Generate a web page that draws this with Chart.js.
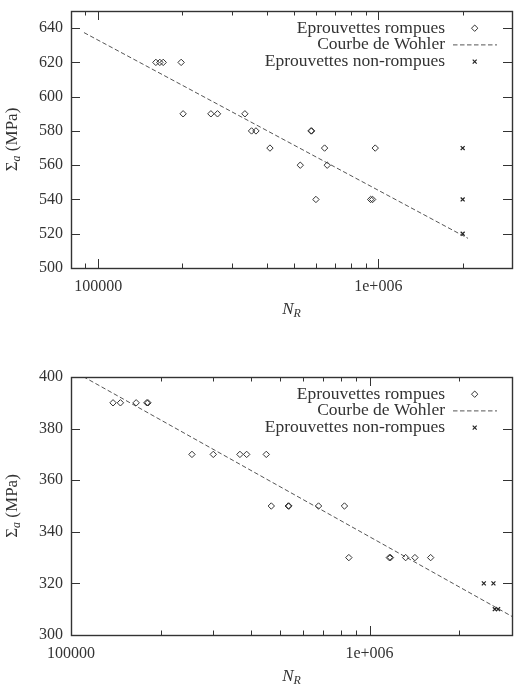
<!DOCTYPE html>
<html>
<head>
<meta charset="utf-8">
<script src="https://cdn.jsdelivr.net/npm/chart.js@4"></script>
<style>
  html, body { margin: 0; padding: 0; background: #fff; }
  .box { position: absolute; left: 0; width: 521px; height: 346px; }
</style>
</head>
<body>
<div class="box" style="top:0"><canvas id="chartTop"></canvas></div>
<div class="box" style="top:346px"><canvas id="chartBottom"></canvas></div>
<script>
// legend labels
const labelRompues = 'Eprouvettes rompues';
const labelWohler = 'Courbe de Wohler';
const labelNonRompues = 'Eprouvettes non-rompues';

// top chart
const topRompuesN = [160700, 166000, 170700, 197800, 201000, 252600, 266700, 334000, 352800, 365800,
                     575000, 578000, 410400, 643000, 975000, 526500, 657000, 598800, 938900, 954000];
const topRompuesS = [620, 620, 620, 620, 590, 590, 590, 590, 580, 580,
                     580, 580, 570, 570, 570, 560, 560, 540, 540, 540];
const topNonRompuesN = [2000000, 2000000, 2000000];
const topNonRompuesS = [570, 540, 520];
const topWohlerN = [89000, 2090000];
const topWohlerS = [637.4, 517.3];
const topYTicks = [500, 520, 540, 560, 580, 600, 620, 640];

// bottom chart
const botRompuesN = [138300, 146400, 165300, 179500, 181000, 254200, 299600, 368000, 387600, 450900,
                     468700, 534000, 537000, 674700, 824000, 852300, 1165000, 1175000, 1321000, 1419000, 1602000];
const botRompuesS = [390, 390, 390, 390, 390, 370, 370, 370, 370, 370,
                     350, 350, 350, 350, 350, 330, 330, 330, 330, 330, 330];
const botNonRompuesN = [2414000, 2600000, 2627000, 2695000];
const botNonRompuesS = [320, 320, 310, 310];
const botWohlerN = [100000, 3000000];
const botWohlerS = [402.8, 307.2];
const botYTicks = [300, 320, 340, 360, 380, 400];

// x tick labels (both charts)
const xTickValues = [100000, 1000000];
const xTickLabels = ['100000', '1e+006'];

const SERIF = '"Liberation Serif", "DejaVu Serif", serif';
const INK = '#333';

function pts(xs, ys) {
    return xs.map((x, i) => ({ x: x, y: ys[i] }));
}

function drawParts(ctx, parts, cx, cy) {
    let total = 0;
    parts.forEach(p => { ctx.font = p.font; total += ctx.measureText(p.t).width; });
    let x = cx - total / 2;
    parts.forEach(p => {
        ctx.font = p.font;
        ctx.fillText(p.t, x, cy + (p.dy || 0));
        x += ctx.measureText(p.t).width;
    });
}

// frame, inward ticks, legend and axis titles
const gnuplotLook = {
    id: 'gnuplotLook',
    afterDraw(chart) {
        const ctx = chart.ctx;
        const a = chart.chartArea;
        const xs = chart.scales.x;
        const ys = chart.scales.y;
        ctx.save();
        ctx.strokeStyle = INK;
        ctx.lineWidth = 1;

        // x ticks, top and bottom
        const lo = Math.floor(Math.log10(xs.min));
        const hi = Math.ceil(Math.log10(xs.max));
        ctx.beginPath();
        for (let d = lo; d <= hi; d++) {
            for (let m = 1; m <= 9; m++) {
                const v = m * Math.pow(10, d);
                if (v < xs.min || v > xs.max) continue;
                const px = Math.round(xs.getPixelForValue(v)) + 0.5;
                const len = m === 1 ? 9 : 4.5;
                ctx.moveTo(px, a.bottom); ctx.lineTo(px, a.bottom - len);
                ctx.moveTo(px, a.top); ctx.lineTo(px, a.top + len);
            }
        }
        // y ticks, left and right
        ys.ticks.forEach(t => {
            const py = Math.round(ys.getPixelForValue(t.value)) + 0.5;
            ctx.moveTo(a.left, py); ctx.lineTo(a.left + 9, py);
            ctx.moveTo(a.right, py); ctx.lineTo(a.right - 9, py);
        });
        ctx.stroke();

        // frame
        ctx.lineWidth = 1.4;
        ctx.strokeRect(Math.round(a.left) + 0.5, Math.round(a.top) + 0.5,
                       Math.round(a.right - a.left), Math.round(a.bottom - a.top));

        // legend
        const ds = chart.data.datasets;
        ctx.textAlign = 'right';
        ctx.textBaseline = 'middle';
        ctx.font = '17.5px ' + SERIF;
        ds.forEach((d, row) => {
            const y = a.top + 17.2 + row * 16.7;
            ctx.fillStyle = INK;
            ctx.fillText(d.label, a.right - 67, y);
            ctx.save();
            ctx.strokeStyle = d.borderColor;
            ctx.lineWidth = d.borderWidth;
            if (d.showLine) {
                ctx.setLineDash(d.borderDash);
                ctx.beginPath();
                ctx.moveTo(a.right - 59, y); ctx.lineTo(a.right - 15, y);
                ctx.stroke();
            } else {
                ctx.fillStyle = 'rgba(0,0,0,0)';
                Chart.helpers.drawPoint(ctx, {
                    pointStyle: d.pointStyle, radius: d.pointRadius, borderWidth: d.borderWidth
                }, a.right - 37.3, y);
            }
            ctx.restore();
        });

        // axis titles
        ctx.textAlign = 'left';
        ctx.textBaseline = 'middle';
        ctx.fillStyle = INK;
        drawParts(ctx, [
            { t: 'N', font: 'italic 17px ' + SERIF },
            { t: 'R', font: 'italic 12px ' + SERIF, dy: 4 }
        ], (a.left + a.right) / 2, a.bottom + 42);

        ctx.save();
        ctx.translate(13, (a.top + a.bottom) / 2);
        ctx.rotate(-Math.PI / 2);
        drawParts(ctx, [
            { t: 'Σ', font: '17px ' + SERIF },
            { t: 'a', font: 'italic 12px ' + SERIF, dy: 4 },
            { t: ' (MPa)', font: '17px ' + SERIF }
        ], 0, 0);
        ctx.restore();
        ctx.restore();
    }
};

function makeChart(id, p) {
    new Chart(document.getElementById(id), {
        type: 'scatter',
        data: {
            datasets: [{
                label: labelRompues,
                data: pts(p.rompuesN, p.rompuesS),
                pointStyle: 'rectRot',
                pointRadius: 3.2,
                borderWidth: 1,
                borderColor: '#333',
                backgroundColor: 'rgba(0,0,0,0)'
            }, {
                label: labelWohler,
                data: pts(p.wohlerN, p.wohlerS),
                showLine: true,
                pointRadius: 0,
                borderWidth: 1,
                borderColor: '#555',
                borderDash: [4.5, 2.5]
            }, {
                label: labelNonRompues,
                data: pts(p.nonRompuesN, p.nonRompuesS),
                pointStyle: 'crossRot',
                pointRadius: 2.8,
                borderWidth: 1.2,
                borderColor: '#222'
            }]
        },
        options: {
            responsive: true,
            maintainAspectRatio: false,
            animation: false,
            layout: { padding: { left: 0, top: p.padTop, right: 9, bottom: 0 } },
            plugins: {
                legend: { display: false },
                tooltip: { enabled: false }
            },
            scales: {
                x: {
                    type: 'logarithmic',
                    min: p.xMin,
                    max: p.xMax,
                    grid: { display: false, drawTicks: false },
                    border: { display: false },
                    ticks: {
                        autoSkip: false,
                        maxRotation: 0,
                        padding: 9,
                        color: INK,
                        font: { family: SERIF, size: 16 },
                        callback: (v, i) => xTickLabels[i]
                    },
                    afterBuildTicks: s => { s.ticks = xTickValues.map(v => ({ value: v })); },
                    afterFit: s => { s.height = p.xHeight; s.paddingLeft = 0; s.paddingRight = 0; }
                },
                y: {
                    min: p.yMin,
                    max: p.yMax,
                    grid: { display: false, drawTicks: false },
                    border: { display: false },
                    ticks: {
                        padding: 8,
                        color: INK,
                        font: { family: SERIF, size: 16 }
                    },
                    afterBuildTicks: s => { s.ticks = p.yTicks.map(v => ({ value: v })); },
                    afterFit: s => { s.width = 71; s.paddingTop = 0; s.paddingBottom = 0; }
                }
            }
        },
        plugins: [gnuplotLook]
    });
}

makeChart('chartTop', {
    rompuesN: topRompuesN, rompuesS: topRompuesS,
    nonRompuesN: topNonRompuesN, nonRompuesS: topNonRompuesS,
    wohlerN: topWohlerN, wohlerS: topWohlerS,
    yTicks: topYTicks, yMin: 500, yMax: 650,
    xMin: 80000, xMax: 3000000,
    padTop: 11, xHeight: 78
});

makeChart('chartBottom', {
    rompuesN: botRompuesN, rompuesS: botRompuesS,
    nonRompuesN: botNonRompuesN, nonRompuesS: botNonRompuesS,
    wohlerN: botWohlerN, wohlerS: botWohlerS,
    yTicks: botYTicks, yMin: 300, yMax: 400,
    xMin: 100000, xMax: 3000000,
    padTop: 31, xHeight: 57
});
</script>
</body>
</html>
